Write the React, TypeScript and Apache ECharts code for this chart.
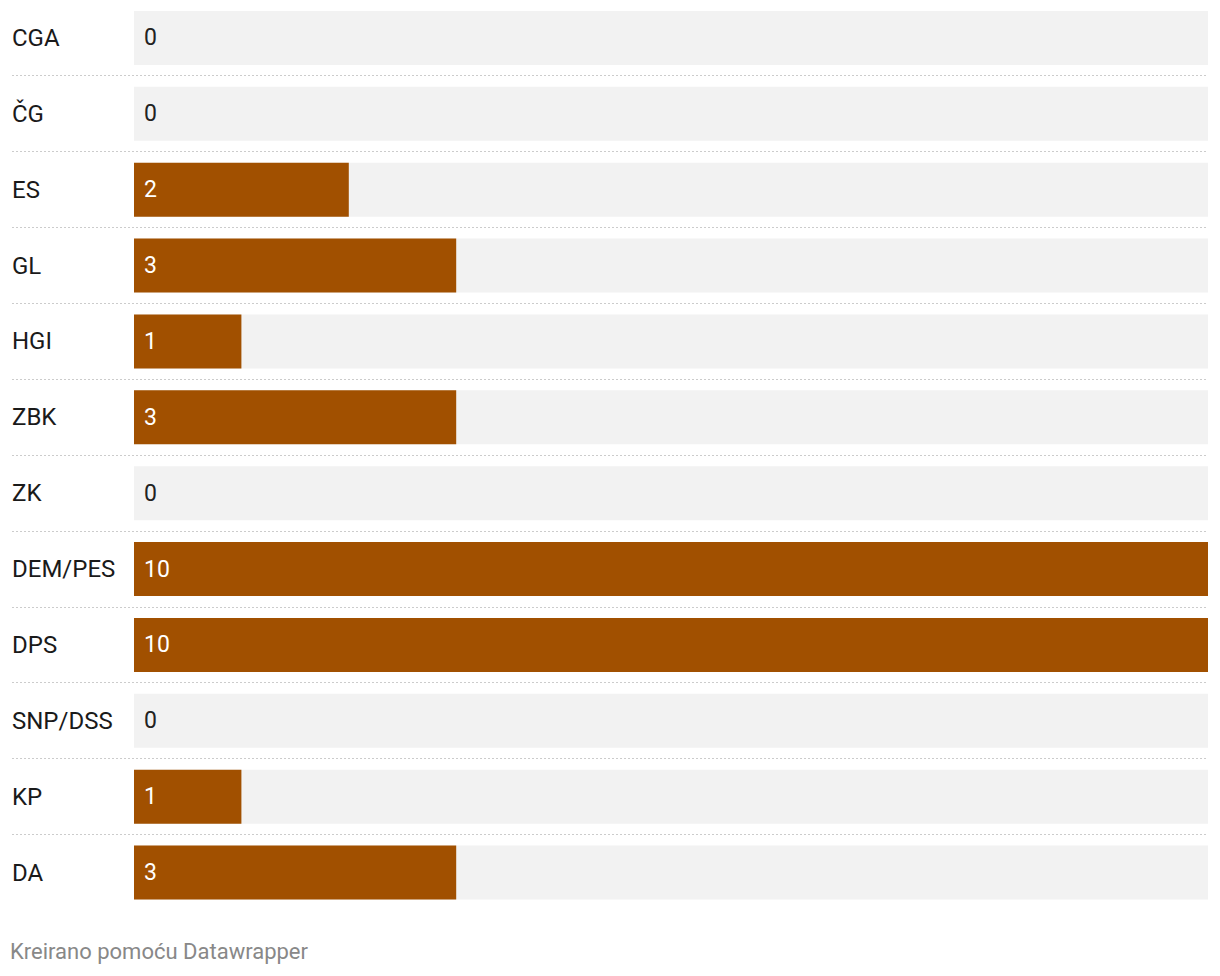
import React, { useEffect, useRef } from "react";
import * as echarts from "echarts";

const categories = ["CGA", "ČG", "ES", "GL", "HGI", "ZBK", "ZK", "DEM/PES", "DPS", "SNP/DSS", "KP", "DA"];
const values = [0, 0, 2, 3, 1, 3, 0, 10, 10, 0, 1, 3];
const axisMax = 10;
const footerText = "Kreirano pomoću Datawrapper";

const BAR = "#a15000";
const FONT = "Roboto, 'Noto Sans', sans-serif";

export default function App() {
  const ref = useRef<HTMLDivElement>(null);
  useEffect(() => {
    if (!ref.current) return;
    const chart = echarts.init(ref.current, null, { renderer: "svg" });
    const data = values.map((v) => ({
      value: v,
      label: { color: v === 0 ? "#222222" : "#ffffff" },
    }));
    chart.setOption({
      animation: false,
      grid: { left: 134, right: 12, top: -1.5, height: 912, containLabel: false },
      xAxis: {
        type: "value",
        min: 0,
        max: axisMax,
        show: false,
      },
      yAxis: {
        type: "category",
        data: categories,
        inverse: true,
        axisLine: { show: false },
        axisTick: { show: false },
        splitLine: { show: false },
        axisLabel: {
          align: "left",
          margin: 122,
          color: "#1a1a1a",
          fontSize: 24,
          fontFamily: FONT,
        },
      },
      series: [
        {
          type: "bar",
          data,
          barWidth: 54,
          itemStyle: { color: BAR },
          showBackground: true,
          backgroundStyle: { color: "#f2f2f2" },
          label: {
            show: true,
            position: "insideLeft",
            distance: 10,
            fontSize: 23,
            fontFamily: FONT,
          },
        },
      ],
    });
    const lines: any[] = [];
    for (let i = 0; i < categories.length - 1; i++) {
      const a = chart.convertToPixel({ yAxisIndex: 0 }, i) as number;
      const b = chart.convertToPixel({ yAxisIndex: 0 }, i + 1) as number;
      const y = Math.floor((a + b) / 2) + 0.5;
      lines.push({
        type: "line",
        shape: { x1: 12, y1: y, x2: 1208, y2: y },
        style: { stroke: "#cccccc", lineWidth: 1, lineDash: [2, 2] },
        silent: true,
      });
    }
    lines.push({
      type: "text",
      left: 10,
      top: 940,
      style: { text: footerText, fill: "#888888", fontSize: 22, fontFamily: FONT },
    });
    chart.setOption({ graphic: lines });
    return () => chart.dispose();
  }, []);
  return (
    <div
      ref={ref}
      style={{ position: "absolute", left: 0, top: 0, width: 1220, height: 976, background: "#fff" }}
    />
  );
}
